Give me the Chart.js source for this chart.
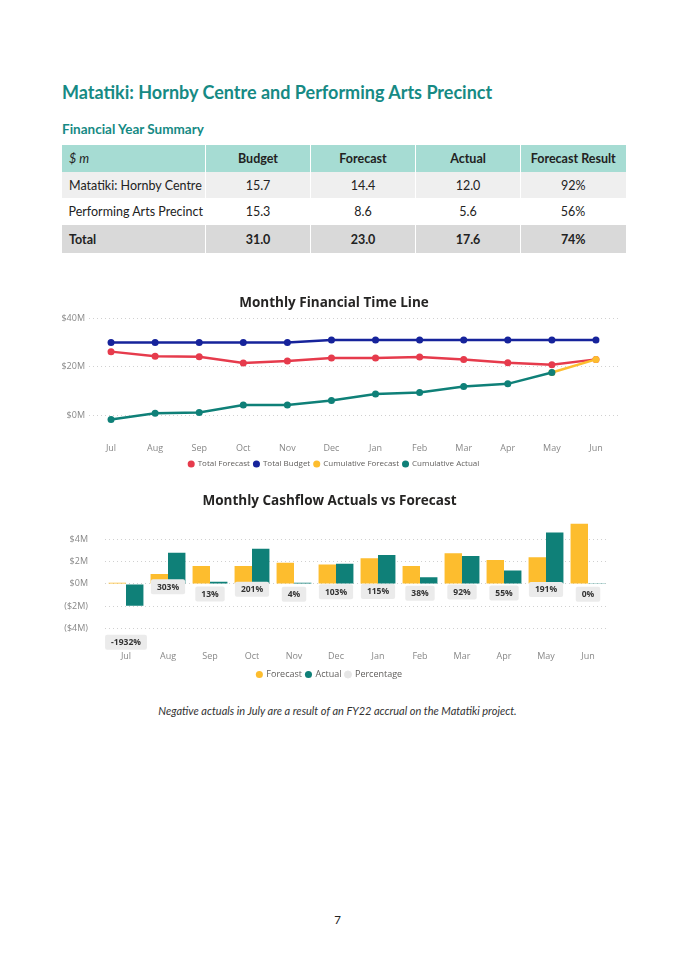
<!DOCTYPE html>
<html>
<head>
<meta charset="utf-8">
<script src="https://cdn.jsdelivr.net/npm/chart.js@4.4.0/dist/chart.umd.min.js"></script>
<style>
  body { margin: 0; background: #fff; font-family: Lato, sans-serif; }
  #page { position: relative; width: 675px; height: 955px; overflow: hidden; }
  h1 { position: absolute; left: 62px; top: 81px; margin: 0; font-size: 18px; font-weight: 700; color: #168a84; white-space: nowrap; }
  h2 { position: absolute; left: 62px; top: 121px; margin: 0; font-size: 13.5px; font-weight: 700; color: #168a84; }
  table { position: absolute; left: 61px; top: 145px; width: 564px; border-collapse: collapse; table-layout: fixed; font-size: 12.5px; color: #222; }
  td, th { padding: 0 7px; text-align: center; border-left: 1px solid #fff; white-space: nowrap; }
  th { font-weight: 700; height: 27px; background: #a6dcd3; }
  th:first-child { text-align: left; font-weight: 400; font-style: italic; }
  td:first-child { text-align: left; }
  tr.r1 td { background: #efefef; height: 26px; }
  tr.r2 td { background: #fff; height: 27px; border-left: none; }
  tr.tot td { background: #d9d9d9; font-weight: 700; height: 28px; }
  .box { position: absolute; }
  #note { position: absolute; left: 0; width: 675px; top: 704px; text-align: center; font-style: italic; font-size: 11px; color: #333; }
  #pnum { position: absolute; left: 0; width: 675px; top: 913px; text-align: center; font-size: 11.5px; color: #222; }
</style>
</head>
<body>
<div id="page">
  <h1>Matatiki: Hornby Centre and Performing Arts Precinct</h1>
  <h2>Financial Year Summary</h2>
  <table id="summary">
    <colgroup><col style="width:144px"><col style="width:105px"><col style="width:105px"><col style="width:105px"><col style="width:105px"></colgroup>
  </table>

  <div class="box" style="left:50px; top:288px; width:580px; height:190px;"><canvas id="timeline"></canvas></div>
  <div class="box" style="left:50px; top:485px; width:580px; height:204px;"><canvas id="cashflow"></canvas></div>

  <div id="note">Negative actuals in July are a result of an FY22 accrual on the Matatiki project.</div>
  <div id="pnum">7</div>
</div>

<script>
// summary table
const tableHeads = ["$ m", "Budget", "Forecast", "Actual", "Forecast Result"];
const tableRows = [
  ["Matatiki: Hornby Centre", "15.7", "14.4", "12.0", "92%"],
  ["Performing Arts Precinct", "15.3", "8.6", "5.6", "56%"],
  ["Total", "31.0", "23.0", "17.6", "74%"]
];

// monthly time line ($M)
const months = ["Jul", "Aug", "Sep", "Oct", "Nov", "Dec", "Jan", "Feb", "Mar", "Apr", "May", "Jun"];
const totalForecast = [26.2, 24.3, 24.1, 21.5, 22.3, 23.6, 23.6, 24.0, 23.0, 21.6, 20.8, 23.0];
const totalBudget = [30.0, 30.0, 30.0, 30.0, 30.0, 31.0, 31.0, 31.0, 31.0, 31.0, 31.0, 31.0];
const cumForecast = [null, null, null, null, null, null, null, null, null, null, 17.6, 23.0];
const cumActual = [-1.8, 0.8, 1.1, 4.2, 4.2, 6.0, 8.7, 9.3, 11.8, 12.9, 17.6, null];
const lineTicks = [0, 20, 40];

// monthly cashflow ($M) and actual / forecast %
const monthForecast = [0.1, 0.9, 1.6, 1.6, 1.9, 1.75, 2.3, 1.6, 2.75, 2.15, 2.4, 5.4];
const monthActual = [-1.95, 2.8, 0.2, 3.15, 0.1, 1.8, 2.6, 0.6, 2.5, 1.2, 4.6, 0.05];
const percentage = [-1932, 303, 13, 201, 4, 103, 115, 38, 92, 55, 191, 0];
const barTicks = [-4, -2, 0, 2, 4];

const C_RED = "#e63b4c";
const C_NAVY = "#16239b";
const C_YELLOW = "#fdbd2e";
const C_TEAL = "#0f8078";
const C_GREY = "#e6e6e6";

const tbl = document.getElementById("summary");
let html = "<tr>" + tableHeads.map(h => `<th>${h}</th>`).join("") + "</tr>";
const rowCls = ["r1", "r2", "tot"];
tableRows.forEach((r, i) => {
  html += `<tr class="${rowCls[i]}">` + r.map(c => `<td>${c}</td>`).join("") + "</tr>";
});
tbl.insertAdjacentHTML("beforeend", html);

const baseFont = { family: "'Open Sans', sans-serif", size: 9 };
Chart.defaults.font.family = "'Open Sans', sans-serif";
Chart.defaults.color = "#777";

const dottedGrid = {
  color: "#d0d0d0",
  lineWidth: 1,
  drawTicks: false
};

const legendOpts = (size) => ({
  position: "bottom",
  labels: {
    usePointStyle: true,
    pointStyle: "circle",
    boxWidth: 5,
    boxHeight: 5,
    padding: 4,
    font: { size: size },
    color: "#605e5c",
    sort: (a, b) => a.datasetIndex - b.datasetIndex
  }
});

const titleOpts = (text, top, bottom) => ({
  display: true,
  text: text,
  color: "#252423",
  font: { size: 13.5, weight: "bold" },
  padding: { top: top, bottom: bottom }
});

new Chart(document.getElementById("timeline"), {
  type: "line",
  data: {
    labels: months,
    datasets: [
      { label: "Total Forecast", data: totalForecast, borderColor: C_RED, backgroundColor: C_RED, order: 2 },
      { label: "Total Budget", data: totalBudget, borderColor: C_NAVY, backgroundColor: C_NAVY, order: 3 },
      { label: "Cumulative Forecast", data: cumForecast, borderColor: C_YELLOW, backgroundColor: C_YELLOW, order: 1 },
      { label: "Cumulative Actual", data: cumActual, borderColor: C_TEAL, backgroundColor: C_TEAL, order: 0 }
    ]
  },
  options: {
    responsive: true,
    maintainAspectRatio: false,
    animation: false,
    layout: { padding: { right: 12 } },
    elements: {
      line: { borderWidth: 2.5, tension: 0 },
      point: { radius: 3.5, borderWidth: 0 }
    },
    scales: {
      x: {
        offset: true,
        grid: { display: false, drawTicks: false, tickLength: 0 },
        border: { display: false },
        ticks: { font: baseFont, color: "#888", padding: 16 },
        afterFit: (scale) => { scale.height -= 14; }
      },
      y: {
        min: -5,
        max: 40,
        afterBuildTicks: (scale) => {
          scale.ticks = lineTicks.map(v => ({ value: v }));
        },
        afterFit: (scale) => { scale.width = 39; },
        grid: dottedGrid,
        border: { display: false, dash: [1, 3] },
        ticks: {
          font: baseFont,
          color: "#888",
          padding: 4,
          callback: (v) => "$" + v + "M"
        }
      }
    },
    plugins: {
      title: titleOpts("Monthly Financial Time Line", 7, 7),
      legend: legendOpts(8),
      tooltip: { enabled: false }
    }
  }
});

// grey label boxes for the percentage series
const pctLabels = {
  id: "pctLabels",
  afterDatasetsDraw(chart) {
    const meta = chart.getDatasetMeta(2);
    const ctx = chart.ctx;
    ctx.save();
    ctx.font = "bold 8.5px 'Open Sans', sans-serif";
    ctx.textAlign = "center";
    ctx.textBaseline = "middle";
    meta.data.forEach((pt, i) => {
      const txt = percentage[i] + "%";
      const w = ctx.measureText(txt).width + 12;
      const h = 15;
      ctx.fillStyle = "#ebebeb";
      ctx.beginPath();
      ctx.roundRect(pt.x - w / 2, pt.y - h / 2, w, h, 2);
      ctx.fill();
      ctx.fillStyle = "#333";
      ctx.fillText(txt, pt.x, pt.y + 0.5);
    });
    ctx.restore();
  }
};

new Chart(document.getElementById("cashflow"), {
  type: "bar",
  data: {
    labels: months,
    datasets: [
      { label: "Forecast", data: monthForecast, backgroundColor: C_YELLOW, categoryPercentage: 0.83, barPercentage: 1.0 },
      { label: "Actual", data: monthActual, backgroundColor: C_TEAL, categoryPercentage: 0.83, barPercentage: 1.0 },
      { label: "Percentage", type: "line", data: percentage, yAxisID: "y2", showLine: false,
        pointRadius: 0, backgroundColor: C_GREY, borderColor: C_GREY }
    ]
  },
  options: {
    responsive: true,
    maintainAspectRatio: false,
    animation: false,
    layout: { padding: { right: 21 } },
    scales: {
      x: {
        grid: { display: false, drawTicks: false, tickLength: 0 },
        border: { display: false },
        ticks: { font: baseFont, color: "#888", padding: 7 },
        afterFit: (scale) => { scale.height -= 3; }
      },
      y: {
        min: -5.4,
        max: 5.8,
        afterBuildTicks: (scale) => {
          scale.ticks = barTicks.map(v => ({ value: v }));
        },
        afterFit: (scale) => { scale.width = 55; },
        grid: dottedGrid,
        border: { display: false, dash: [1, 3] },
        ticks: {
          font: baseFont,
          color: "#888",
          padding: 17,
          callback: (v) => v < 0 ? "($" + (-v) + "M)" : "$" + v + "M"
        }
      },
      y2: {
        display: false,
        min: -2010,
        max: 3020
      }
    },
    plugins: {
      title: titleOpts("Monthly Cashflow Actuals vs Forecast", 8, 10),
      legend: legendOpts(9),
      tooltip: { enabled: false }
    }
  },
  plugins: [pctLabels]
});
</script>
</body>
</html>
